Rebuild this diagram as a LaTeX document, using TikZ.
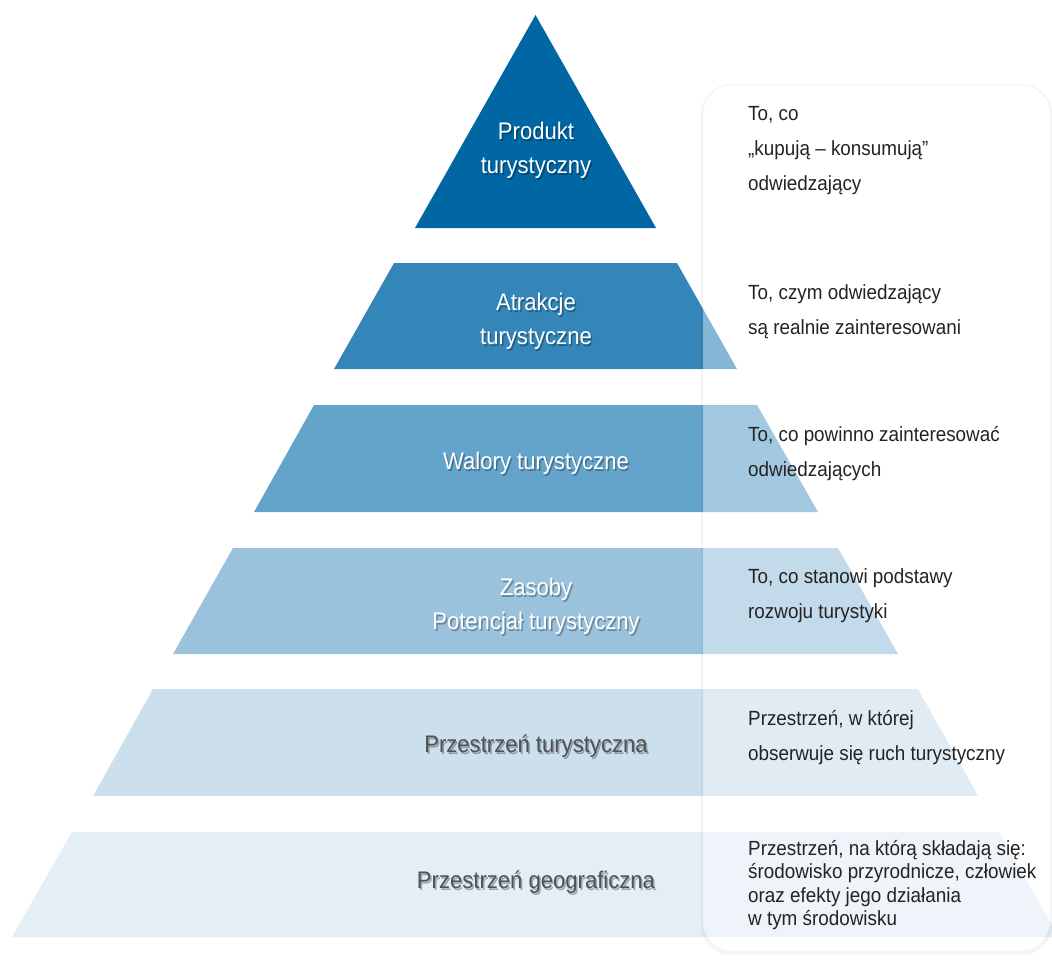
\documentclass[tikz,border=0pt]{standalone}
\usepackage{fontspec}
\setmainfont[FakeStretch=0.92]{Liberation Sans}

\definecolor{warstwaA}{RGB}{0,102,164}
\definecolor{warstwaB}{RGB}{52,134,185}
\definecolor{warstwaC}{RGB}{100,164,202}
\definecolor{warstwaD}{RGB}{154,194,220}
\definecolor{warstwaE}{RGB}{204,223,236}
\definecolor{warstwaF}{RGB}{227,238,245}
\definecolor{napisSzary}{RGB}{80,82,88}
\definecolor{opisSzary}{RGB}{35,35,35}

\tikzset{
  etykieta/.style={font=\fontsize{24}{30}\selectfont, text=white, inner sep=0pt, anchor=base},
  etykietaCiemna/.style={etykieta, text=napisSzary},
  cien/.style={etykieta, text=black, text opacity=0.3},
  opis/.style={font=\fontsize{20.5}{24}\selectfont, text=opisSzary, inner sep=0pt, anchor=base west},
}

\begin{document}
\begin{tikzpicture}[x=1pt,y=-1pt]
        \useasboundingbox (0,0) rectangle (1052,961);
        % warstwy piramidy
        \fill[warstwaA] (535.5,15) -- (656,228) -- (415,228) -- cycle;
        \fill[warstwaB] (394,263) -- (677,263) -- (737,369) -- (334,369) -- cycle;
        \fill[warstwaC] (314,405) -- (757,405) -- (818,512) -- (254,512) -- cycle;
        \fill[warstwaD] (233,548) -- (838,548) -- (898,654) -- (173,654) -- cycle;
        \fill[warstwaE] (153,689) -- (918,689) -- (978,796) -- (93,796) -- cycle;
        \fill[warstwaF] (72,832) -- (999,832) -- (1059,937) -- (12,937) -- cycle;
        %%
        \node[cien] (prod1s) at (537.5,141) {Produkt};
        \node[cien] (prod2s) at (537.5,175) {turystyczny};
        \node[etykieta] (prod1) at (536,139) {Produkt};
        \node[etykieta] (prod2) at (536,173) {turystyczny};
        \node[cien] (atr1s) at (537.5,312) {Atrakcje};
        \node[cien] (atr2s) at (537.5,346) {turystyczne};
        \node[etykieta] (atr1) at (536,310) {Atrakcje};
        \node[etykieta] (atr2) at (536,344) {turystyczne};
        \node[cien] (wals) at (537.5,471) {Walory turystyczne};
        \node[etykieta] (wal) at (536,469) {Walory turystyczne};
        \node[cien] (zas1s) at (537.5,597) {Zasoby};
        \node[cien] (zas2s) at (537.5,631) {Potencjał turystyczny};
        \node[etykieta] (zas1) at (536,595) {Zasoby};
        \node[etykieta] (zas2) at (536,629) {Potencjał turystyczny};
        \node[cien] (pturs) at (537.5,754) {Przestrzeń turystyczna};
        \node[etykietaCiemna] (ptur) at (536,752) {Przestrzeń turystyczna};
        \node[cien] (pgeos) at (537.5,890) {Przestrzeń geograficzna};
        \node[etykietaCiemna] (pgeo) at (536,888) {Przestrzeń geograficzna};
        %% panel z opisami
        \fill[black, opacity=0.04, even odd rule, rounded corners=30]
          (701,84) rectangle (1052,955) (703,85) rectangle (1050,951);
        \fill[white, opacity=0.4, rounded corners=30] (703,85) rectangle (1050,951);
        %%
        \node[opis] (opis1a) at (748,120.5) {To, co};
        \node[opis] (opis1b) at (748,155.5) {„kupują – konsumują”};
        \node[opis] (opis1c) at (748,190.5) {odwiedzający};
        \node[opis] (opis2a) at (748,299) {To, czym odwiedzający};
        \node[opis] (opis2b) at (748,334) {są realnie zainteresowani};
        \node[opis] (opis3a) at (748,441) {To, co powinno zainteresować};
        \node[opis] (opis3b) at (748,476) {odwiedzających};
        \node[opis] (opis4a) at (748,583) {To, co stanowi podstawy};
        \node[opis] (opis4b) at (748,618) {rozwoju turystyki};
        \node[opis] (opis5a) at (748,725) {Przestrzeń, w której};
        \node[opis] (opis5b) at (748,760) {obserwuje się ruch turystyczny};
        \node[opis] (opis6a) at (748,855) {Przestrzeń, na którą składają się:};
        \node[opis] (opis6b) at (748,878.5) {środowisko przyrodnicze, człowiek};
        \node[opis] (opis6c) at (748,902) {oraz efekty jego działania};
        \node[opis] (opis6d) at (748,925) {w tym środowisku};
\end{tikzpicture}
\end{document}
